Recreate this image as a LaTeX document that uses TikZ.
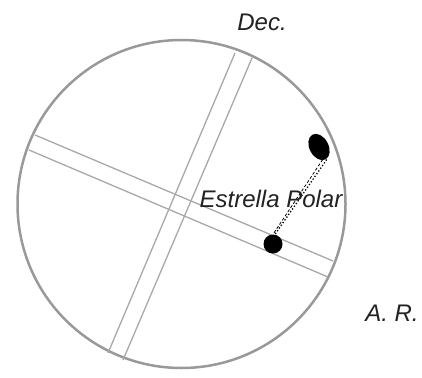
\documentclass[tikz,border=0pt]{standalone}
\usepackage{fontspec}
\setsansfont{Liberation Sans}
\usetikzlibrary{positioning, shapes.geometric}
\definecolor{rimgray}{HTML}{999999}
\definecolor{wiregray}{HTML}{A8A8A8}
\definecolor{inkdark}{HTML}{222222}

\begin{document}
\begin{tikzpicture}[x=1pt, y=-1pt,
    font=\sffamily\itshape\fontsize{24}{28}\selectfont,
    wire/.style={wiregray, line width=1.3pt},
    star/.style={circle, fill=black, minimum size=19pt, inner sep=0pt},
    lbl/.style={text=inkdark, inner sep=0pt}]
    \useasboundingbox (0,0) rectangle (422,377);
    % field of view
    \node[circle, draw=rimgray, line width=2.5pt, minimum size=328pt, inner sep=0pt] (field) at (181.5,204) {};
    % declination wires
    \draw[wire] (235,53) -- (108,353);
    \draw[wire] (252,58) -- (123,360);
    % right ascension wires
    \draw[wire] (35,135) -- (333,261);
    \draw[wire] (29,150) -- (328,277);
    % stars
    \node[star] (polaris) at (273,244) {};
    \node[ellipse, fill=black, minimum width=28pt, minimum height=19pt, inner sep=0pt, rotate=-62] (image) at (319,147) {};
    \draw[black, line width=1.3pt, dotted] ([xshift=1pt]image.east) -- ([xshift=2pt]polaris.north);
    \draw[black, line width=0.8pt, densely dashed] ([xshift=-3pt]image.east) -- (polaris.north);
    % labels
    \node[lbl] (polarlbl) at (271,199) {Estrella Polar};
    \node[lbl] (declbl) at (262,22) {Dec.};
    \node[lbl] (arlbl) at (392,313) {A. R.};
\end{tikzpicture}
\end{document}
